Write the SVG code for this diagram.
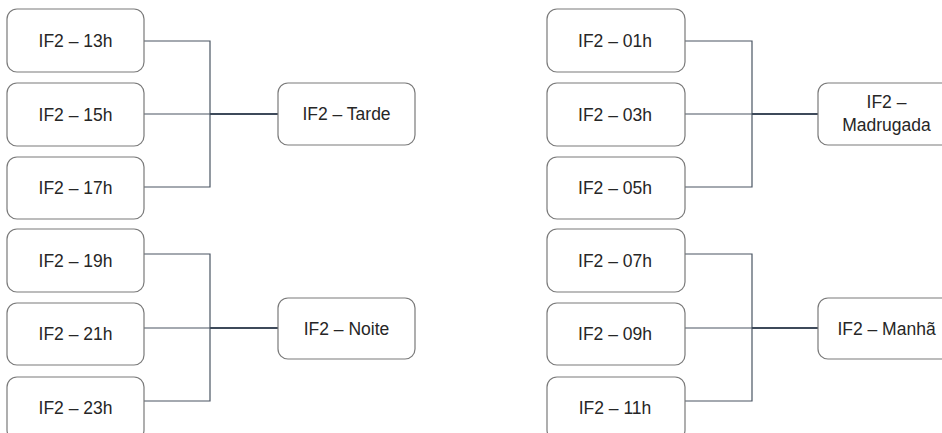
<svg xmlns="http://www.w3.org/2000/svg" width="942" height="433" viewBox="0 0 942 433">
<style>
.box{fill:#fff;stroke:#7a7a7a;stroke-width:1.2}
.t{font-family:"Liberation Sans",Arial,sans-serif;font-size:17.5px;fill:#262626;text-anchor:middle}
.c{fill:none;stroke:#4a5563;stroke-width:1.2}
.m{fill:none;stroke:#3e4a5a;stroke-width:2.2}
</style>
<rect width="942" height="433" fill="#fff"/>
<g id="connectors">
<path class="c" d="M144 41H210V187H144M144 114H210"/>
<path class="m" d="M210 114H278"/>
<path class="c" d="M144 254H210V401H144M144 328H210"/>
<path class="m" d="M210 328H278"/>
<path class="c" d="M685 41H752V187H685M685 114H752"/>
<path class="m" d="M752 114H818"/>
<path class="c" d="M685 254H752V401H685M685 328H752"/>
<path class="m" d="M752 328H818"/>
</g>
<g id="n13"><rect class="box" x="7" y="9" width="137" height="63" rx="10"/><text class="t" x="75.5" y="47">IF2 – 13h</text></g>
<g id="n15"><rect class="box" x="7" y="83" width="137" height="63" rx="10"/><text class="t" x="75.5" y="120.5">IF2 – 15h</text></g>
<g id="n17"><rect class="box" x="7" y="157" width="137" height="62" rx="10"/><text class="t" x="75.5" y="194">IF2 – 17h</text></g>
<g id="tarde"><rect class="box" x="278" y="83" width="137" height="62" rx="10"/><text class="t" x="346.5" y="120">IF2 – Tarde</text></g>
<g id="n19"><rect class="box" x="7" y="229" width="137" height="63" rx="10"/><text class="t" x="75.5" y="266.5">IF2 – 19h</text></g>
<g id="n21"><rect class="box" x="7" y="303" width="137" height="62" rx="10"/><text class="t" x="75.5" y="340">IF2 – 21h</text></g>
<g id="n23"><rect class="box" x="7" y="377" width="137" height="63" rx="10"/><text class="t" x="75.5" y="413.5">IF2 – 23h</text></g>
<g id="noite"><rect class="box" x="278" y="298" width="137" height="61" rx="10"/><text class="t" x="346.5" y="334.5">IF2 – Noite</text></g>
<g id="n01"><rect class="box" x="547" y="9" width="138" height="63" rx="10"/><text class="t" x="615" y="47">IF2 – 01h</text></g>
<g id="n03"><rect class="box" x="547" y="83" width="138" height="63" rx="10"/><text class="t" x="615" y="120.5">IF2 – 03h</text></g>
<g id="n05"><rect class="box" x="547" y="157" width="138" height="62" rx="10"/><text class="t" x="615" y="194">IF2 – 05h</text></g>
<g id="madrugada"><rect class="box" x="818" y="83" width="137" height="62" rx="10"/><text class="t" x="886.5" y="107.5">IF2 –</text><text class="t" x="886.5" y="131">Madrugada</text></g>
<g id="n07"><rect class="box" x="547" y="229" width="138" height="63" rx="10"/><text class="t" x="615" y="266.5">IF2 – 07h</text></g>
<g id="n09"><rect class="box" x="547" y="303" width="138" height="62" rx="10"/><text class="t" x="615" y="340">IF2 – 09h</text></g>
<g id="n11"><rect class="box" x="547" y="377" width="138" height="63" rx="10"/><text class="t" x="615" y="413.5">IF2 – 11h</text></g>
<g id="manha"><rect class="box" x="818" y="298" width="137" height="61" rx="10"/><text class="t" x="886.5" y="334.5">IF2 – Manhã</text></g>
</svg>
